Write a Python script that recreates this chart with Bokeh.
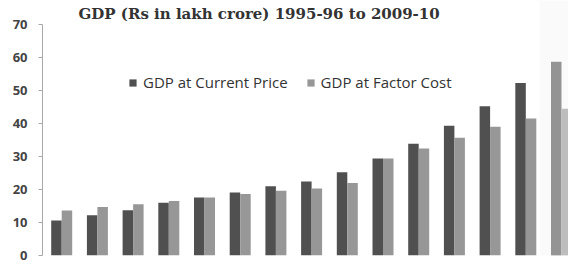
import numpy as np
from bokeh.plotting import figure
from bokeh.models import (ColumnDataSource, Range1d, FixedTicker, Legend, LegendItem,
                          Label, BoxAnnotation)
from bokeh.transform import dodge
from bokeh.embed import file_html
from bokeh.resources import INLINE

title_text = "GDP (Rs in lakh crore) 1995-96 to 2009-10"
years = ["1995-96", "1996-97", "1997-98", "1998-99", "1999-00", "2000-01", "2001-02",
         "2002-03", "2003-04", "2004-05", "2005-06", "2006-07", "2007-08", "2008-09", "2009-10"]
gdp_current = [10.6, 12.2, 13.7, 16.0, 17.6, 19.1, 21.0, 22.4, 25.2, 29.4, 33.9, 39.3, 45.2, 52.3, 58.7]
gdp_factor = [13.6, 14.7, 15.5, 16.5, 17.6, 18.6, 19.6, 20.3, 22.0, 29.4, 32.4, 35.7, 39.0, 41.5, 44.5]
y_ticks = [0, 10, 20, 30, 40, 50, 60, 70]
series_names = ["GDP at Current Price", "GDP at Factor Cost"]

idx = np.arange(len(years))
bw = 0.294
src = ColumnDataSource(dict(x=idx, year=years, cur=gdp_current, fac=gdp_factor))

p = figure(width=568, height=264, output_backend="svg", toolbar_location=None,
           x_range=Range1d(-0.538, 14.196), y_range=Range1d(0, 77.27),
           min_border_left=42, min_border_right=0, min_border_top=0, min_border_bottom=9)
p.outline_line_color = None
p.background_fill_color = "white"
p.border_fill_color = "white"
p.xgrid.visible = False
p.ygrid.visible = False
p.xaxis.visible = False

r1 = p.vbar(x=dodge("x", -bw / 2), top="cur", width=bw, bottom=0, source=src,
            fill_color="#505050", line_color=None)
r2 = p.vbar(x=dodge("x", bw / 2), top="fac", width=bw, bottom=0, source=src,
            fill_color="#979797", line_color=None)

# lighter strip at right edge of the original screenshot
p.add_layout(BoxAnnotation(left=13.39, fill_color="#f2f2f2", fill_alpha=0.42, line_color=None))

ax = p.yaxis[0]
ax.ticker = FixedTicker(ticks=y_ticks)
ax.bounds = (0, 70)
ax.axis_line_color = "#a8a8a8"
ax.major_tick_line_color = "#a8a8a8"
ax.major_tick_out = 4
ax.major_tick_in = 0
ax.minor_tick_line_color = None
ax.major_label_standoff = 11
ax.major_label_text_font = "Noto Sans"
ax.major_label_text_font_size = "13px"
ax.major_label_text_font_style = "bold"
ax.major_label_text_color = "#444444"

legend = Legend(items=[LegendItem(label=series_names[0], renderers=[r1]),
                       LegendItem(label=series_names[1], renderers=[r2])],
                orientation="horizontal", location=(86, 163),
                padding=0, margin=0, spacing=18, glyph_width=9, glyph_height=9,
                label_standoff=6, border_line_color=None, background_fill_alpha=0,
                label_text_font="Open Sans", label_text_font_size="15px",
                label_text_color="#333333")
p.add_layout(legend, "center")

p.add_layout(Label(x=5.53, y=73.3, text=title_text, text_align="center",
                   text_baseline="middle", text_font="DejaVu Serif",
                   text_font_style="bold", text_font_size="15px", text_color="#333333"))

open("out.html", "w").write(file_html(p, INLINE))
